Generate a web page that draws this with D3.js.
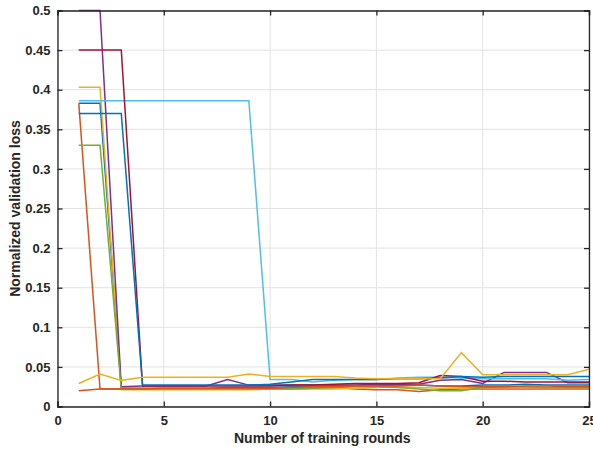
<!DOCTYPE html>
<html><head><meta charset="utf-8">
<script src="https://cdn.jsdelivr.net/npm/d3@7"></script>
<style>
body{margin:0;background:#fff;}
text{font-family:"Liberation Sans",Arial,Helvetica,sans-serif;font-weight:bold;fill:#262626;}
</style></head>
<body>
<svg id="chart" width="593" height="451"></svg>
<script>
const rounds = d3.range(1, 26);
const xTicks = [0, 5, 10, 15, 20, 25];
const yTicks = [0, 0.05, 0.1, 0.15, 0.2, 0.25, 0.3, 0.35, 0.4, 0.45, 0.5];
const colors = ["#0072BD","#D95319","#EDB120","#7E2F8E","#77AC30","#4DBEEE","#A2142F","#0072BD","#D95319","#EDB120"];

const s1 = [0.383,0.383,0.023,0.023,0.023,0.023,0.023,0.024,0.024,0.024,0.025,0.025,0.026,0.026,0.026,0.027,0.027,0.026,0.026,0.027,0.027,0.028,0.027,0.027,0.027];
const s2 = [0.383,0.022,0.022,0.022,0.022,0.022,0.022,0.022,0.022,0.022,0.022,0.023,0.024,0.022,0.021,0.021,0.019,0.021,0.022,0.022,0.022,0.022,0.022,0.022,0.022];
const s3 = [0.403,0.403,0.021,0.021,0.021,0.021,0.021,0.021,0.021,0.022,0.022,0.022,0.022,0.023,0.024,0.025,0.024,0.023,0.023,0.024,0.024,0.024,0.024,0.024,0.024];
const s4 = [0.5,0.5,0.025,0.026,0.026,0.026,0.026,0.034,0.027,0.027,0.027,0.027,0.027,0.027,0.028,0.028,0.028,0.033,0.034,0.029,0.043,0.043,0.043,0.030,0.030];
const s5 = [0.33,0.33,0.022,0.022,0.022,0.022,0.022,0.022,0.022,0.022,0.022,0.023,0.024,0.025,0.025,0.024,0.022,0.020,0.020,0.024,0.025,0.025,0.024,0.024,0.024];
const s6 = [0.386,0.386,0.386,0.386,0.386,0.386,0.386,0.386,0.386,0.034,0.034,0.031,0.033,0.034,0.034,0.036,0.037,0.037,0.036,0.035,0.035,0.035,0.035,0.033,0.034];
const s7 = [0.45,0.45,0.45,0.026,0.026,0.026,0.026,0.026,0.026,0.026,0.027,0.027,0.028,0.029,0.029,0.029,0.030,0.039,0.038,0.032,0.032,0.031,0.031,0.031,0.031];
const s8 = [0.37,0.37,0.37,0.027,0.027,0.027,0.027,0.027,0.027,0.028,0.031,0.034,0.034,0.034,0.034,0.035,0.035,0.036,0.038,0.037,0.038,0.038,0.038,0.038,0.038];
const s9 = [0.02,0.022,0.022,0.022,0.023,0.023,0.023,0.023,0.023,0.023,0.024,0.025,0.025,0.026,0.026,0.026,0.027,0.026,0.025,0.025,0.025,0.026,0.026,0.025,0.025];
const s10 = [0.029,0.041,0.033,0.037,0.037,0.037,0.037,0.037,0.041,0.038,0.038,0.038,0.038,0.036,0.035,0.035,0.035,0.035,0.068,0.040,0.040,0.040,0.040,0.040,0.047];
const seriesList = [s1,s2,s3,s4,s5,s6,s7,s8,s9,s10];

const svg = d3.select("#chart");
const L = 57.5, R = 589, T = 10.5, B = 406.5;
const x = d3.scaleLinear().domain([0, 25]).range([L, R]);
const y = d3.scaleLinear().domain([0, 0.5]).range([B, T]);

// grid
const grid = svg.append("g");
grid.selectAll(".gx").data(xTicks).join("line")
  .attr("x1", d => x(d)).attr("x2", d => x(d)).attr("y1", T).attr("y2", B)
  .attr("stroke", "#e3e3e3").attr("stroke-width", 1);
grid.selectAll(".gy").data(yTicks).join("line")
  .attr("y1", d => y(d)).attr("y2", d => y(d)).attr("x1", L).attr("x2", R)
  .attr("stroke", "#e3e3e3").attr("stroke-width", 1);

// lines
const line = d3.line().x((d, i) => x(rounds[i])).y(d => y(d));
const plot = svg.append("g");
seriesList.forEach((s, k) => {
  plot.append("path").datum(s).attr("d", line)
    .attr("fill", "none").attr("stroke", colors[k]).attr("stroke-width", 1.5)
    .attr("stroke-linejoin", "miter");
});

// axes
const fmtY = d => d === 0 ? "0" : String(+d.toFixed(2));
const xAxis = d3.axisBottom(x).tickValues(xTicks).tickSize(-5).tickPadding(9).tickFormat(d3.format("d"));
const yAxis = d3.axisLeft(y).tickValues(yTicks).tickSize(-5).tickPadding(7).tickFormat(fmtY);
const xTop = d3.axisTop(x).tickValues(xTicks).tickSize(-5).tickFormat("");
const yRight = d3.axisRight(y).tickValues(yTicks).tickSize(-5).tickFormat("");

const gx = svg.append("g").attr("transform", `translate(0,${B})`).call(xAxis);
const gy = svg.append("g").attr("transform", `translate(${L},0)`).call(yAxis);
const gt = svg.append("g").attr("transform", `translate(0,${T})`).call(xTop);
const gr = svg.append("g").attr("transform", `translate(${R},0)`).call(yRight);
[gx, gy, gt, gr].forEach(g => {
  g.select(".domain").attr("stroke", "#262626").attr("stroke-width", 1.3);
  g.selectAll(".tick line").attr("stroke", "#262626").attr("stroke-width", 1.3);
  g.selectAll(".tick text").attr("font-size", 13).attr("font-weight", "bold")
    .attr("font-family", '"Liberation Sans",Arial,sans-serif').attr("fill", "#262626");
});

svg.append("text").attr("x", (L + R) / 2 - 1).attr("y", 443)
  .attr("text-anchor", "middle").attr("font-size", 14).text("Number of training rounds");
svg.append("text").attr("transform", `translate(20,${(T + B) / 2}) rotate(-90)`)
  .attr("text-anchor", "middle").attr("font-size", 14).text("Normalized validation loss");
</script>
</body></html>
